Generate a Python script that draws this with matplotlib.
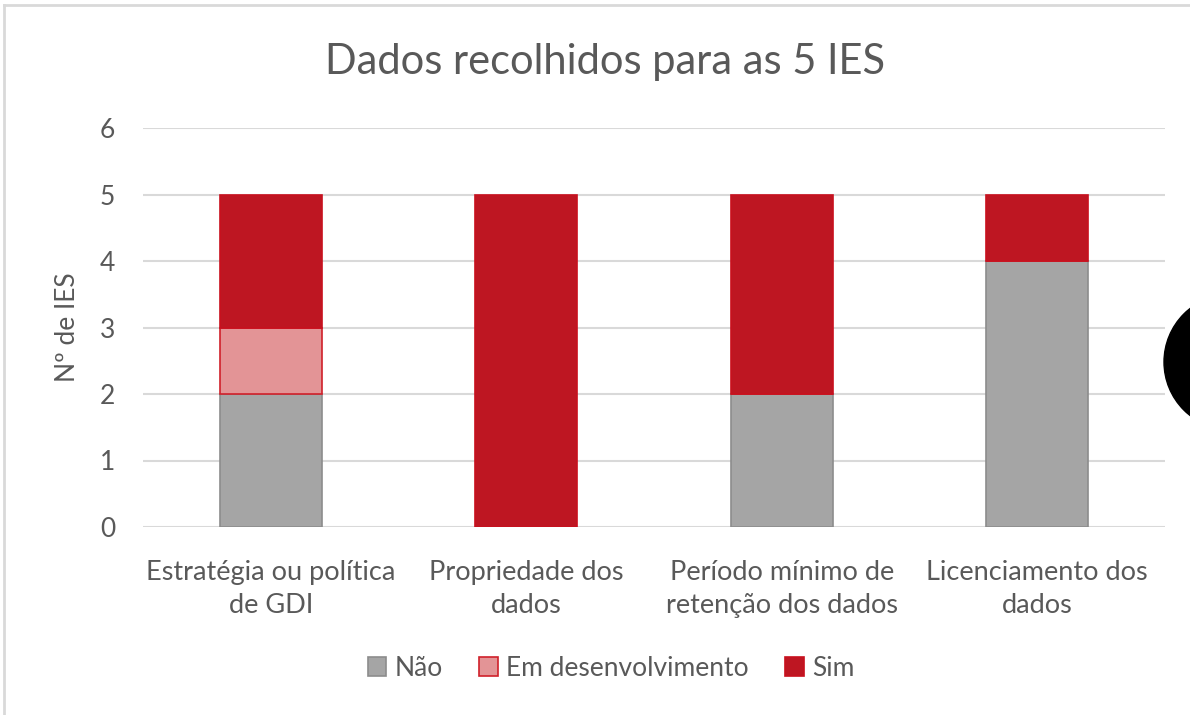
import matplotlib
matplotlib.use("Agg")
import matplotlib.pyplot as plt
from matplotlib.patches import Circle

categories = ["Estratégia ou política\nde GDI", "Propriedade dos\ndados",
              "Período mínimo de\nretenção dos dados", "Licenciamento dos\ndados"]
nao = [2, 0, 2, 4]
em_desenv = [1, 0, 0, 0]
sim = [2, 5, 3, 1]
yticks = [0, 1, 2, 3, 4, 5, 6]

plt.rcParams['font.family'] = ['Lato', 'DejaVu Sans']
txt = '#595959'

fig = plt.figure(figsize=(11.9, 7.15), dpi=100)
ax = fig.add_axes([143/1190, 188/715, (1165-143)/1190, (527-128)/715])

x = list(range(len(categories)))
w = 0.4
ax.bar(x, nao, w, color='#A5A5A5', edgecolor='#8C8C8C', linewidth=1.2, label='Não', zorder=3)
bottom2 = nao
ax.bar(x, em_desenv, w, bottom=bottom2, color='#E39496', edgecolor='#D0202A', linewidth=1.2,
       label='Em desenvolvimento', zorder=3)
bottom3 = [a + b for a, b in zip(nao, em_desenv)]
ax.bar(x, sim, w, bottom=bottom3, color='#BE1622', edgecolor='#C8101E', linewidth=1.2,
       label='Sim', zorder=3)

ax.set_xlim(-0.5, 3.5)
ax.set_ylim(0, 6)
ax.set_yticks(yticks)
ax.set_xticks(x)
ax.set_xticklabels(categories, fontsize=19.5, color=txt, linespacing=1.4)
ax.tick_params(axis='y', labelsize=19, labelcolor=txt, length=0, pad=20)
ax.tick_params(axis='x', length=0, pad=24)
ax.grid(axis='y', color='#D9D9D9', linewidth=1.5, zorder=0)
for s in ax.spines.values():
    s.set_visible(False)
ax.set_ylabel('Nº de IES', fontsize=19, color=txt, labelpad=14)

fig.text(605/1190, 1 - 62/715, 'Dados recolhidos para as 5 IES', ha='center', va='center',
         fontsize=30, color=txt)

leg = fig.legend(loc='center', bbox_to_anchor=(611/1190, 1 - 668/715), ncol=3, frameon=False,
                 fontsize=19, labelcolor=txt, handlelength=0.7, handleheight=0.7,
                 handletextpad=0.3, columnspacing=1.4)

# border lines
fig.add_artist(plt.Line2D([4/1190, 1], [1 - 5/715, 1 - 5/715], color='#D9D9D9', lw=2,
                          transform=fig.transFigure))
fig.add_artist(plt.Line2D([4/1190, 4/1190], [0, 1 - 5/715], color='#D9D9D9', lw=2,
                          transform=fig.transFigure))

# black circle at right edge
circ = Circle((1232, 715 - 362), 68, transform=None, color='black', zorder=10)
fig.add_artist(circ)

fig.savefig('out.png', dpi=100)
